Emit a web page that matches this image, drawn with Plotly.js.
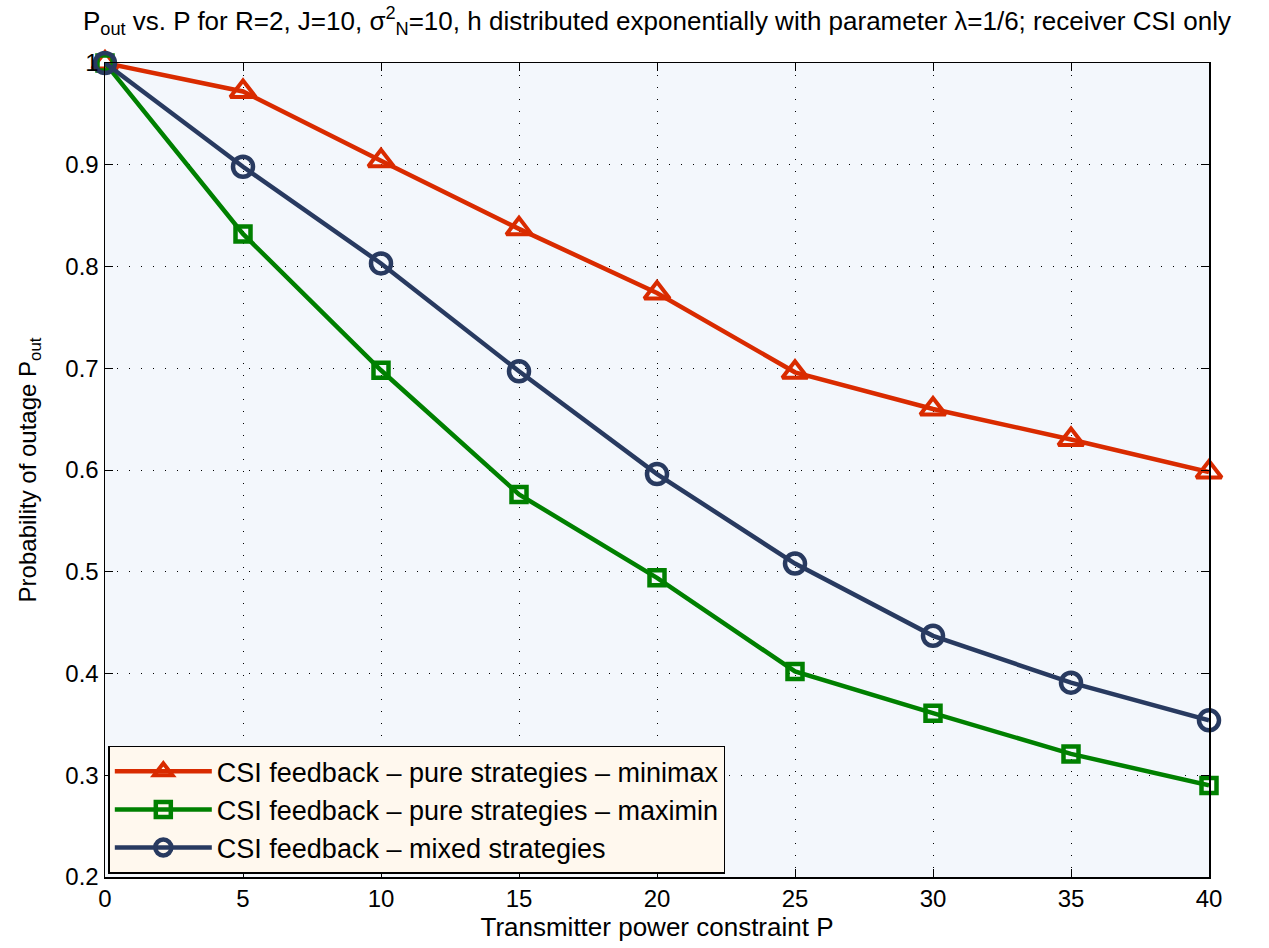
<!DOCTYPE html>
<html>
<head>
<meta charset="utf-8">
<script src="https://cdn.plot.ly/plotly-3.0.1.min.js"></script>
<style>html,body{margin:0;padding:0;background:#fff;}#chart{width:1269px;height:948px;}</style>
</head>
<body>
<div id="chart"></div>
<script>
const powerP = [0, 5, 10, 15, 20, 25, 30, 35, 40];
const minimaxPure = [1.0, 0.972, 0.904, 0.837, 0.774, 0.696, 0.660, 0.630, 0.598];
const maximinPure = [1.0, 0.832, 0.698, 0.576, 0.494, 0.402, 0.361, 0.321, 0.290];
const mixedStrat = [1.0, 0.898, 0.803, 0.697, 0.596, 0.508, 0.437, 0.391, 0.354];
const seriesNames = [
  'CSI feedback \u2013 pure strategies \u2013 minimax',
  'CSI feedback \u2013 pure strategies \u2013 maximin',
  'CSI feedback \u2013 mixed strategies'
];
const xTicks = [0, 5, 10, 15, 20, 25, 30, 35, 40];
const yTicks = [0.2, 0.3, 0.4, 0.5, 0.6, 0.7, 0.8, 0.9, 1];
const yTickText = ['0.2', '0.3', '0.4', '0.5', '0.6', '0.7', '0.8', '0.9', '1'];

const FONT = 'Liberation Sans, Arial, Helvetica, sans-serif';
const traces = [
  {x: powerP, y: minimaxPure, name: seriesNames[0], mode: 'lines+markers',
   line: {color: '#D92B00', width: 4.5},
   marker: {symbol: 'triangle-up-open', size: 22, color: '#D92B00', line: {width: 4, color: '#D92B00'}},
   cliponaxis: false},
  {x: powerP, y: maximinPure, name: seriesNames[1], mode: 'lines+markers',
   line: {color: '#008000', width: 4.5},
   marker: {symbol: 'square-open', size: 15, color: '#008000', line: {width: 4.5, color: '#008000'}},
   cliponaxis: false},
  {x: powerP, y: mixedStrat, name: seriesNames[2], mode: 'lines+markers',
   line: {color: '#283A60', width: 4.5},
   marker: {symbol: 'circle-open', size: 20, color: '#283A60', line: {width: 4.5, color: '#283A60'}},
   cliponaxis: false}
];

const axisCommon = {
  showline: true, linecolor: '#000', linewidth: 1.5, mirror: 'ticks',
  ticks: 'inside', ticklen: 8, tickwidth: 1, tickcolor: '#000',
  showgrid: true, gridcolor: '#000', gridwidth: 1, griddash: '1px,11px',
  zeroline: false, tickfont: {family: FONT, size: 24, color: '#000'}
};

const layout = {
  width: 1269, height: 948,
  margin: {l: 105, r: 60, t: 63, b: 71},
  paper_bgcolor: '#fff', plot_bgcolor: '#F3F7FC',
  font: {family: FONT, color: '#000', size: 24},
  title: {
    text: 'P<sub>out</sub> vs. P for R=2, J=10, \u03c3<sup>2</sup><sub>N</sub>=10, h distributed exponentially with parameter \u03bb=1/6; receiver CSI only',
    font: {family: FONT, size: 26, color: '#000'},
    x: 0.5, xref: 'paper', y: 0.988, yref: 'container', yanchor: 'top'
  },
  xaxis: Object.assign({}, axisCommon, {
    range: [0, 40], tickvals: xTicks, ticktext: xTicks.map(String),
    title: {text: 'Transmitter power constraint P', font: {family: FONT, size: 26}, standoff: 2}
  }),
  yaxis: Object.assign({}, axisCommon, {
    range: [0.2, 1], tickvals: yTicks, ticktext: yTickText,
    title: {text: 'Probability of outage P<sub>out</sub>', font: {family: FONT, size: 24}, standoff: 22}
  }),
  legend: {
    x: 0.003, y: 0.004, xanchor: 'left', yanchor: 'bottom',
    bgcolor: '#FFF8EE', bordercolor: '#000', borderwidth: 1.5,
    font: {family: FONT, size: 27, color: '#000'},
    itemwidth: 97, tracegroupgap: 0
  },
  showlegend: true
};

Plotly.newPlot('chart', traces, layout, {displayModeBar: false, staticPlot: true});
</script>
</body>
</html>
